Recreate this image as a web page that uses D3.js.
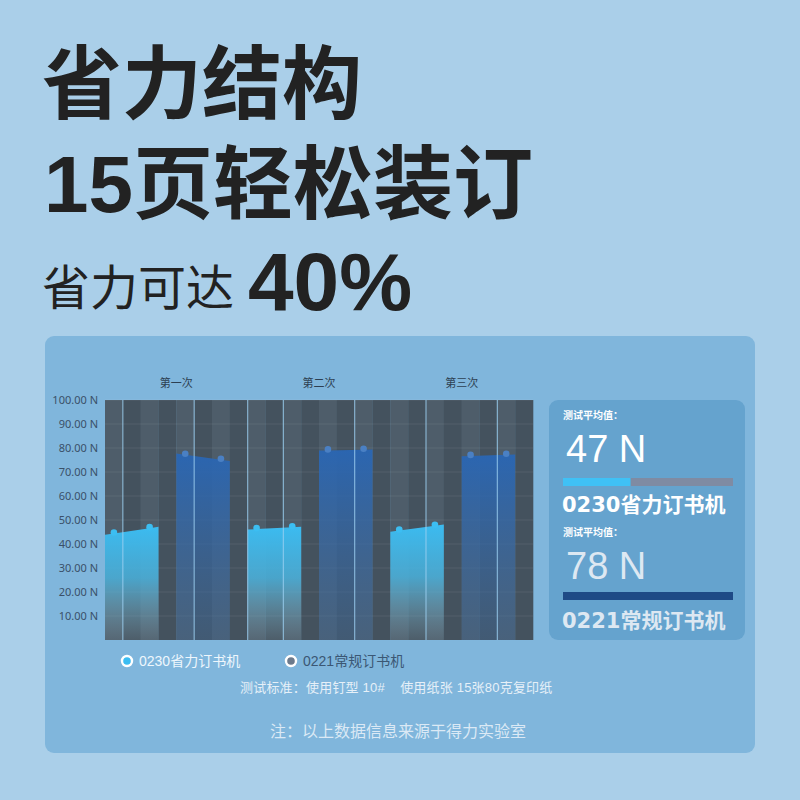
<!DOCTYPE html>
<html>
<head>
<meta charset="utf-8">
<script src="https://cdn.jsdelivr.net/npm/d3@7"></script>
<style>
  html, body { margin: 0; padding: 0; background: #aacfe9; }
  svg { display: block; }
</style>
</head>
<body>
<svg id="chart" width="800" height="800"></svg>
<script>
// ---------- data ----------
const categories = ["第一次", "第二次", "第三次"];
const seriesNames = ["0230省力订书机", "0221常规订书机"];
// two readings per test for each stapler
const savingValues = [[44.4, 46.6], [46.2, 47.0], [45.6, 47.6]];
const regularValues = [[77.2, 75.1], [79.0, 79.3], [76.7, 77.2]];
const yTicks = [10, 20, 30, 40, 50, 60, 70, 80, 90, 100];
const avgValues = [47, 78];
const highlightSlots = [1, 5, 8, 10, 14, 18, 22];
const titleLines = ["省力结构", "15页轻松装订"];
const subtitle = "省力可达";
const subtitleValue = "40%";
const standardNote = "测试标准：使用钉型 10#\u00a0\u00a0\u00a0\u00a0使用纸张 15张80克复印纸";
const sourceNote = "注：以上数据信息来源于得力实验室";
const avgLabel = "测试平均值：";

// ---------- setup ----------
const svg = d3.select("#chart");
const CJK = "'Noto Sans CJK SC', 'Noto Sans', sans-serif";
const LAT = "'Liberation Sans', 'Noto Sans CJK SC', sans-serif";
const DJV = "'DejaVu Sans', 'Noto Sans CJK SC', sans-serif";

svg.append("rect").attr("width", 800).attr("height", 800).attr("fill", "#aacfe9");

// headline
svg.append("text").attr("x", 42).attr("y", 112)
  .attr("font-family", LAT).attr("font-weight", 700).attr("font-size", 80)
  .attr("fill", "#222222").text(titleLines[0]);
svg.append("text").attr("x", 44).attr("y", 212)
  .attr("font-family", LAT).attr("font-weight", 700).attr("font-size", 80)
  .attr("fill", "#222222").text(titleLines[1]);
svg.append("text").attr("x", 42).attr("y", 305)
  .attr("font-family", LAT).attr("font-weight", 400).attr("font-size", 48)
  .attr("fill", "#222222").text(subtitle);
svg.append("text").attr("x", 248).attr("y", 310)
  .attr("font-family", LAT).attr("font-weight", 700).attr("font-size", 82)
  .attr("fill", "#222222").text(subtitleValue);

// card
svg.append("rect").attr("x", 45).attr("y", 336).attr("width", 710).attr("height", 417)
  .attr("rx", 9).attr("fill", "#80b6dc");

// ---------- chart ----------
const plot = { x0: 105, x1: 533, y0: 400, y1: 640 };
const y = d3.scaleLinear().domain([0, 100]).range([plot.y1, plot.y0]);
const xg = d3.scaleBand().domain(categories).range([plot.x0, plot.x1]).padding(0);
const slotsPerGroup = 8;
const xs = d3.scaleLinear().domain([0, slotsPerGroup * categories.length]).range([plot.x0, plot.x1]);
const slotX = (gi, s) => xs(gi * slotsPerGroup + s);

const defs = svg.append("defs");
const g1 = defs.append("linearGradient").attr("id", "gLight").attr("x1", 0).attr("y1", 0).attr("x2", 0).attr("y2", 1);
g1.append("stop").attr("offset", 0).attr("stop-color", "#3bbbf0").attr("stop-opacity", 1);
g1.append("stop").attr("offset", 0.45).attr("stop-color", "#4ab3de").attr("stop-opacity", 0.85);
g1.append("stop").attr("offset", 1).attr("stop-color", "#8fb2c2").attr("stop-opacity", 0.12);
const g2 = defs.append("linearGradient").attr("id", "gDark").attr("x1", 0).attr("y1", 0).attr("x2", 0).attr("y2", 1);
g2.append("stop").attr("offset", 0).attr("stop-color", "#2a66b3").attr("stop-opacity", 0.97);
g2.append("stop").attr("offset", 1).attr("stop-color", "#3e6a9c").attr("stop-opacity", 0.35);

// stripes
const nSlots = slotsPerGroup * categories.length;
svg.append("g").selectAll("rect").data(d3.range(nSlots)).join("rect")
  .attr("x", d => xs(d)).attr("y", plot.y0)
  .attr("width", d => xs(d + 1) - xs(d) + 0.3).attr("height", plot.y1 - plot.y0)
  .attr("fill", d => d % 2 === 0 ? "#4e5d6a" : "#44525e");

// gridlines
svg.append("g").selectAll("line").data(yTicks).join("line")
  .attr("x1", plot.x0).attr("x2", plot.x1)
  .attr("y1", d => y(d)).attr("y2", d => y(d))
  .attr("stroke", "#ffffff").attr("stroke-opacity", 0.08).attr("stroke-width", 1);

// areas
function areaPoints(vals, gi, startSlot) {
  const c1 = slotX(gi, startSlot + 0.5), c2 = slotX(gi, startSlot + 2.5);
  const l = slotX(gi, startSlot), r = slotX(gi, startSlot + 3);
  const v1 = y(vals[0]), v2 = y(vals[1]);
  const slope = (v2 - v1) / (c2 - c1);
  return [[l, v1 + slope * (l - c1)], [c1, v1], [c2, v2], [r, v2 + slope * (r - c2)]];
}
const area = d3.area().x(d => d[0]).y0(plot.y1).y1(d => d[1]);
const seriesDefs = [
  { vals: savingValues, start: 0, fill: "url(#gLight)", dot: "#3cbef2" },
  { vals: regularValues, start: 4, fill: "url(#gDark)", dot: "#4a80c4" }
];
seriesDefs.forEach(s => {
  svg.append("g").selectAll("path").data(s.vals).join("path")
    .attr("d", (d, i) => area(areaPoints(d, i, s.start)))
    .attr("fill", s.fill);
});

// highlight verticals
svg.append("g").selectAll("line").data(highlightSlots).join("line")
  .attr("x1", d => xs(d)).attr("x2", d => xs(d))
  .attr("y1", plot.y0).attr("y2", plot.y1)
  .attr("stroke", "#9ccff0").attr("stroke-opacity", 0.75).attr("stroke-width", 1.2);

// dots
seriesDefs.forEach(s => {
  const pts = [];
  s.vals.forEach((vals, gi) => vals.forEach((v, k) => pts.push([slotX(gi, s.start + 0.5 + 2 * k), y(v)])));
  svg.append("g").selectAll("circle").data(pts).join("circle")
    .attr("cx", d => d[0]).attr("cy", d => d[1] - 1).attr("r", 3.3)
    .attr("fill", s.dot);
});

// y axis labels
svg.append("g").selectAll("text").data(yTicks).join("text")
  .attr("x", 98).attr("y", d => y(d)).attr("dy", "0.35em")
  .attr("text-anchor", "end").attr("font-family", "'Noto Sans', sans-serif")
  .attr("font-size", 11).attr("fill", "#3a5068")
  .text(d => d3.format(".2f")(d) + " N");

// category labels
svg.append("g").selectAll("text").data(categories).join("text")
  .attr("x", d => xg(d) + xg.bandwidth() / 2).attr("y", 383).attr("dy", "0.35em")
  .attr("text-anchor", "middle").attr("font-family", CJK)
  .attr("font-size", 11).attr("fill", "#2d3f52").text(d => d);

// ---------- legend ----------
const legendColors = [
  { fill: "#3bbdf2", text: "#eef6fc", x: 127 },
  { fill: "#6c7a8c", text: "#3b5774", x: 291 }
];
seriesNames.forEach((n, i) => {
  const L = legendColors[i];
  svg.append("circle").attr("cx", L.x).attr("cy", 661).attr("r", 5)
    .attr("fill", L.fill).attr("stroke", "#ffffff").attr("stroke-width", 2.4);
  svg.append("text").attr("x", L.x + 12).attr("y", 661).attr("dy", "0.35em")
    .attr("font-family", LAT).attr("font-size", 14).attr("fill", L.text).text(n);
});
svg.append("text").attr("x", 240).attr("y", 687).attr("dy", "0.35em")
  .attr("font-family", LAT).attr("font-size", 13).attr("letter-spacing", 0.2)
  .attr("fill", "#e6f0f8").text(standardNote);
svg.append("text").attr("x", 270).attr("y", 731).attr("dy", "0.35em")
  .attr("font-family", CJK).attr("font-size", 16).attr("fill", "#dbe9f5").text(sourceNote);

// ---------- right panel ----------
svg.append("rect").attr("x", 549).attr("y", 400).attr("width", 196).attr("height", 240)
  .attr("rx", 9).attr("fill", "#65a3ce");
const barScale = d3.scaleLinear().domain([0, 1]).range([0, 170]);
const saving = 1 - avgValues[0] / avgValues[1];
const panel = [
  { top: 400, numColor: "#ffffff", nameColor: "#ffffff" },
  { top: 517, numColor: "#dde8f2", nameColor: "#dde8f2" }
];
panel.forEach((p, i) => {
  svg.append("text").attr("x", 563).attr("y", p.top + 19)
    .attr("font-family", CJK).attr("font-weight", 700).attr("font-size", 10)
    .attr("fill", "#ffffff").text(avgLabel);
  svg.append("text").attr("x", 566).attr("y", p.top + 62)
    .attr("font-family", LAT).attr("font-size", 38)
    .attr("fill", p.numColor).text(avgValues[i] + " N");
  if (i === 0) {
    svg.append("rect").attr("x", 563).attr("y", 478).attr("width", barScale(1)).attr("height", 8).attr("fill", "#7f8ba3");
    svg.append("rect").attr("x", 563).attr("y", 478).attr("width", barScale(saving)).attr("height", 8).attr("fill", "#3fc1f6");
  } else {
    svg.append("rect").attr("x", 563).attr("y", 592).attr("width", barScale(1)).attr("height", 8).attr("fill", "#1e4a86");
  }
  svg.append("text").attr("x", 562).attr("y", i === 0 ? 512 : 628)
    .attr("font-family", DJV).attr("font-weight", 700).attr("font-size", 21)
    .attr("fill", p.nameColor).text(seriesNames[i]);
});
</script>
</body>
</html>
